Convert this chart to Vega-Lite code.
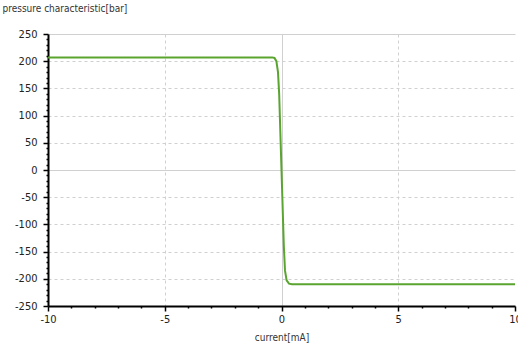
{
  "$schema": "https://vega.github.io/schema/vega-lite/v6.json",
  "autosize": "none",
  "width": 467,
  "height": 272,
  "padding": {"left": 48, "top": 34, "right": 3, "bottom": 47},
  "background": "white",
  "config": {"view": {"stroke": null}, "font": "Liberation Sans Narrow, DejaVu Sans Condensed, Liberation Sans, sans-serif"},
  "data": {"values": [
    {"current": -10, "pressure": 207},
    {"current": -0.4, "pressure": 207},
    {"current": -0.3, "pressure": 206},
    {"current": -0.22, "pressure": 200},
    {"current": -0.15, "pressure": 180},
    {"current": -0.1, "pressure": 140},
    {"current": 0, "pressure": 0},
    {"current": 0.1, "pressure": -140},
    {"current": 0.15, "pressure": -185},
    {"current": 0.22, "pressure": -203},
    {"current": 0.32, "pressure": -209},
    {"current": 0.45, "pressure": -210},
    {"current": 10, "pressure": -210}
  ]},
  "mark": {"type": "line", "color": "#5aa530", "strokeWidth": 2, "clip": true},
  "encoding": {
    "x": {
      "field": "current", "type": "quantitative",
      "scale": {"domain": [-10, 10], "nice": false, "zero": false},
      "axis": {
        "title": "current[mA]",
        "titleFontSize": 10, "titleFontWeight": "normal", "titleColor": "#333",
        "titlePadding": 8,
        "values": [-10,-9,-8,-7,-6,-5,-4,-3,-2,-1,0,1,2,3,4,5,6,7,8,9,10],
        "labelExpr": "datum.value % 5 == 0 ? '' + datum.value : ''",
        "labelFontSize": 11, "labelColor": "#222", "labelPadding": 2,
        "labelOverlap": false, "labelFlush": false,
        "domainColor": "#000", "domainWidth": 2,
        "tickColor": "#000",
        "tickSize": {"condition": {"test": "datum.value % 5 == 0", "value": 5}, "value": 2},
        "tickWidth": 1.5,
        "grid": true,
        "gridColor": "#d0d0d0",
        "gridOpacity": {"condition": {"test": "datum.value % 5 == 0 && abs(datum.value) != 10", "value": 1}, "value": 0},
        "gridDash": {"condition": {"test": "datum.value == 0", "value": []}, "value": [3, 3]}
      }
    },
    "y": {
      "field": "pressure", "type": "quantitative",
      "scale": {"domain": [-250, 250], "nice": false, "zero": false},
      "axis": {
        "title": "pressure characteristic[bar]",
        "titleAngle": 0, "titleAlign": "left", "titleBaseline": "middle",
        "titleX": -46, "titleY": -26,
        "titleFontSize": 10, "titleFontWeight": "normal", "titleColor": "#333",
        "values": [-250,-240,-230,-220,-210,-200,-190,-180,-170,-160,-150,-140,-130,-120,-110,-100,-90,-80,-70,-60,-50,-40,-30,-20,-10,0,10,20,30,40,50,60,70,80,90,100,110,120,130,140,150,160,170,180,190,200,210,220,230,240,250],
        "labelExpr": "datum.value % 50 == 0 ? '' + datum.value : ''",
        "labelFontSize": 11, "labelColor": "#222", "labelPadding": 6,
        "labelOverlap": false, "labelFlush": false,
        "domainColor": "#000", "domainWidth": 2,
        "tickColor": "#000",
        "tickSize": {"condition": {"test": "datum.value % 50 == 0", "value": 5}, "value": 2},
        "tickWidth": 1.5,
        "grid": true,
        "gridColor": "#d0d0d0",
        "gridOpacity": {"condition": {"test": "datum.value % 50 == 0 && datum.value != -250", "value": 1}, "value": 0},
        "gridDash": {"condition": {"test": "datum.value == 0 || datum.value == 250", "value": []}, "value": [3, 3]}
      }
    }
  }
}
